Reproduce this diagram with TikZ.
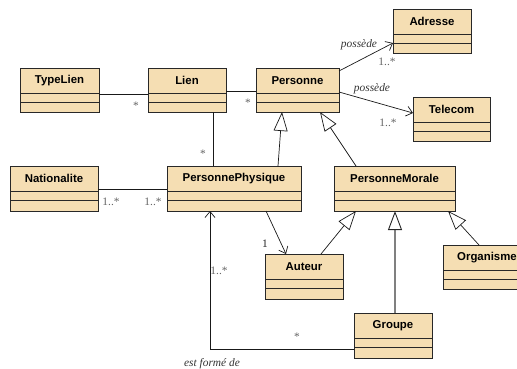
\documentclass[tikz,border=0pt]{standalone}
\usepackage{fontspec}
\setmainfont{Liberation Serif}
\setsansfont{Liberation Sans}
\usetikzlibrary{arrows.meta,calc}
\definecolor{classfill}{RGB}{245,222,179}
\definecolor{classline}{RGB}{40,40,40}
\definecolor{multgray}{RGB}{100,100,100}

\tikzset{
  classbox/.style={draw=classline, fill=classfill, line width=0.9pt,
    anchor=north west, inner sep=0pt, outer sep=0pt},
  classrule/.style={draw=classline, line width=0.9pt},
  classname/.style={font=\sffamily\bfseries\fontsize{11.4}{13}\selectfont,
    inner sep=0pt},
  assoc/.style={draw=black!90, line width=0.7pt},
  navig/.style={assoc, -{Straight Barb[length=6pt,width=10pt]}},
  inherit/.style={assoc, -{Triangle[open,length=19pt,width=14pt,fill=white]}},
  inheritgray/.style={draw=black!50, line width=1.4pt,
    -{Triangle[open,length=19pt,width=14pt,fill=white,line width=0.9pt,color=black!85]}},
  mult/.style={font=\fontsize{11.4}{13}\selectfont, text=multgray, inner sep=0pt},
  multdark/.style={font=\fontsize{11.4}{13}\selectfont, text=black!85, inner sep=0pt},
  role/.style={font=\itshape\fontsize{11.4}{13}\selectfont, text=black!80, inner sep=0pt}
}

% class box: name, x1, y1, x2, y2, title
\newcommand{\umlclass}[6]{%
  \node[classbox, minimum width={(#4-#2)*1pt}, minimum height={(#5-#3)*1pt}] (#1) at (#2,#3) {};
  \draw[classrule] ([yshift=-25pt]#1.north west) -- ([yshift=-25pt]#1.north east);
  \draw[classrule] ([yshift=-34pt]#1.north west) -- ([yshift=-34pt]#1.north east);
  \node[classname] (#1-title) at ([yshift=-12.5pt]#1.north) {#6};
}

\begin{document}
\begin{tikzpicture}[x=1pt,y=-1pt]
\useasboundingbox (0,0) rectangle (517,369);
\clip (0,0) rectangle (517,369);

% classes
\umlclass{typelien}{20}{68}{99}{112}{TypeLien}
\umlclass{lien}{148}{68}{226}{112}{Lien}
\umlclass{personne}{256}{68}{339}{112}{Personne}
\umlclass{adresse}{393}{9}{471}{53}{Adresse}
\umlclass{telecom}{413}{97}{490}{141}{Telecom}
\umlclass{nationalite}{10}{166}{98}{211}{Nationalite}
\umlclass{pphys}{167}{166}{301}{211}{PersonnePhysique}
\umlclass{pmorale}{334}{166}{455}{211}{PersonneMorale}
\umlclass{auteur}{265}{254}{343}{299}{Auteur}
\umlclass{organisme}{443}{245}{531}{289}{Organisme}
\umlclass{groupe}{354}{313}{432}{358}{Groupe}

% associations
\draw[assoc] ([yshift=-26pt]typelien.north east) -- ([yshift=-26pt]lien.north west);
\draw[assoc] ([yshift=-23pt]lien.north east) -- ([yshift=-23pt]personne.north west);
\draw[assoc] ([xshift=-13pt]lien.south east) -- ([xshift=-13pt]lien.south east |- pphys.north);
\draw[assoc] ([yshift=-23pt]nationalite.north east) -- ([yshift=-23pt]pphys.north west);
\draw[navig] ([yshift=-3pt]personne.north east) -- ([yshift=-34pt]adresse.north west);
\draw[navig] ([yshift=-24pt]personne.north east) -- ([yshift=-16pt]telecom.north west);
\draw[navig] ([xshift=99pt]pphys.south west) -- ([xshift=21pt]auteur.north west);
\draw[navig] ([yshift=-36pt]groupe.north west) -| ([xshift=43pt]pphys.south west);

% generalizations
\draw[inherit] ([xshift=111pt]pphys.north west) -- ([xshift=26pt]personne.south west);
\draw[inherit] ([xshift=22pt]pmorale.north west) -- ([xshift=64pt]personne.south west);
\draw[inherit] ([xshift=56pt]auteur.north west) -- ([xshift=22pt]pmorale.south west);
\draw[inherit] ([xshift=36pt]organisme.north west) -- ([xshift=-7pt]pmorale.south east);
\draw[inheritgray] ([xshift=61pt]pmorale.south west |- groupe.north) -- ([xshift=61pt]pmorale.south west);

% multiplicities and roles
\node[mult] (m1) at (136,106) {*};
\node[mult] (m2) at (248,103) {*};
\node[mult] (m3) at (203,154) {*};
\node[role] (r1) at (359,45) {possède};
\node[mult] (m4) at (387,62) {1..*};
\node[role] (r2) at (372,89) {possède};
\node[mult] (m5) at (388,123) {1..*};
\node[mult] (m6) at (111,202) {1..*};
\node[mult] (m7) at (153,202) {1..*};
\node[multdark] (m8) at (265,244) {1};
\node[mult] (m9) at (219,271) {1..*};
\node[mult] (m10) at (297,337) {*};
\node[role] (r3) at (212,364) {est formé de};
\end{tikzpicture}
\end{document}
